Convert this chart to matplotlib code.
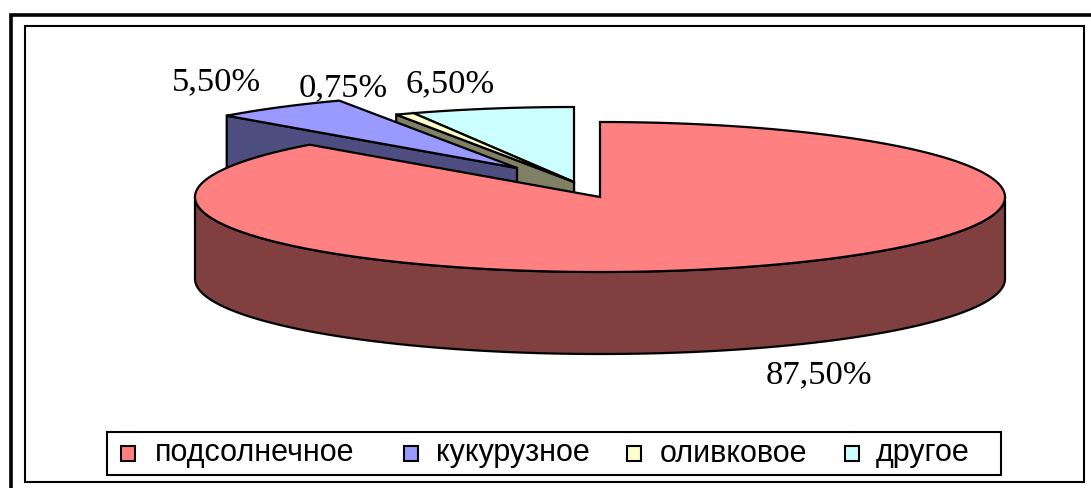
import numpy as np
import matplotlib
matplotlib.use('Agg')
import matplotlib.pyplot as plt
from matplotlib.patches import Polygon, Rectangle

# chart data
categories = ['подсолнечное', 'кукурузное', 'оливковое', 'другое']
values = [87.5, 5.5, 0.75, 6.5]
value_labels = ['87,50%', '5,50%', '0,75%', '6,50%']
top_colors = ['#FF8080', '#9999FF', '#FFFFCC', '#CCFFFF']
side_colors = ['#804040', '#4D4D80', '#808066', '#668080']

W, H = 1091, 488
RX, RY, DEPTH = 405, 75, 82
# slice centres in pixels (explosion of each slice)
centres = [(600, 197), (517, 168), (574, 182), (574, 182)]
label_pos = [(819, 375), (217, 82), (343, 88), (450, 84)]

fig = plt.figure(figsize=(W / 100, H / 100), dpi=100)
ax = fig.add_axes([0, 0, 1, 1])
ax.set_xlim(0, W)
ax.set_ylim(H, 0)
ax.axis('off')

# double frame round the chart
ax.add_patch(Rectangle((11, 14.5), W - 11 + 5, H - 14.5 + 5, fc='white', ec='black', lw=2.6))
ax.add_patch(Rectangle((25, 26), 1059, 456, fc='white', ec='black', lw=1.5))


def ellipse_pts(c, a0, a1):
    # angle in degrees, clockwise from the top of the pie
    n = max(int(abs(a1 - a0)), 2) + 1
    t = np.radians(np.linspace(a0, a1, n))
    return np.column_stack((c[0] + RX * np.sin(t), c[1] - RY * np.cos(t)))


edges = np.cumsum([0] + values) / sum(values) * 360
LW = 1.6

# small slices first, the big one lies over them
for i in [3, 2, 1, 0]:
    c = np.array(centres[i], dtype=float)
    a0, a1 = edges[i], edges[i + 1]
    arc = ellipse_pts(c, a0, a1)
    down = np.array([0, DEPTH])
    if i == 0:
        # outer wall, front part only
        front = ellipse_pts(c, 90, 270)
        wall = np.vstack((front, (front + down)[::-1]))
        ax.add_patch(Polygon(wall, fc=side_colors[i], ec='black', lw=LW, zorder=2 + 3 - i))
    else:
        # radial wall on the start side of the slice
        wall = np.array([arc[0], c, c + down, arc[0] + down])
        ax.add_patch(Polygon(wall, fc=side_colors[i], ec='black', lw=LW, zorder=2 + 3 - i))
    top = np.vstack(([c], arc))
    ax.add_patch(Polygon(top, fc=top_colors[i], ec='black', lw=LW, zorder=2 + 3 - i))

for lab, p in zip(value_labels, label_pos):
    ax.text(p[0], p[1], lab, family='Liberation Serif', fontsize=24.8, ha='center', va='center', zorder=10)

# legend
ax.add_patch(Rectangle((107, 432), 894, 43, fc='white', ec='black', lw=1.5, zorder=8))
swatch_x = [121, 404, 627, 845]
text_x = [155, 436, 660, 876]
for name, col, sx, tx in zip(categories, top_colors, swatch_x, text_x):
    ax.add_patch(Rectangle((sx, 446), 14, 15, fc=col, ec='black', lw=1.5, zorder=9))
    ax.text(tx, 453.5, name, family='Liberation Sans', fontsize=22, ha='left', va='center', zorder=10)

fig.savefig('out.png', dpi=100)
